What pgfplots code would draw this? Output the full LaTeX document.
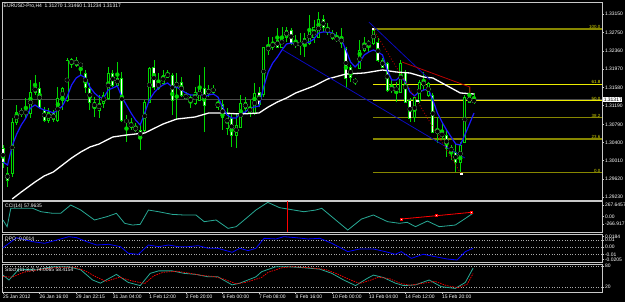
\documentclass[border=0pt]{standalone}
\usepackage{pgfplots}
\usepackage{pgfplotstable}
\pgfplotsset{compat=1.18}
\usepackage{fontspec}
\setmainfont{Liberation Sans}
\definecolor{wick}{RGB}{0,215,0}
\definecolor{maBlue}{RGB}{25,25,255}
\definecolor{fibOlive}{RGB}{135,135,0}
\definecolor{fibYellow}{RGB}{235,235,0}
\definecolor{chanBlue}{RGB}{10,10,190}
\definecolor{trendRed}{RGB}{185,0,0}
\definecolor{cciTeal}{RGB}{40,170,150}
\definecolor{frame}{RGB}{200,200,200}
\definecolor{bidGrey}{RGB}{75,75,75}
\definecolor{lvl}{RGB}{170,170,170}
\newcommand\mtfont{\fontsize{5}{6}\selectfont}

\pgfplotstableread{
i o h l c
0 1.30282 1.30347 1.29855 1.29983
1 1.29748 1.29876 1.29448 1.29598
2 1.29748 1.30925 1.29662 1.30839
3 1.30839 1.31203 1.30775 1.31053
4 1.31053 1.31138 1.30946 1.31032
5 1.31032 1.31353 1.30925 1.31053
6 1.31032 1.31738 1.30925 1.31481
7 1.31481 1.31845 1.31417 1.31588
8 1.31567 1.31695 1.31138 1.31160
9 1.31096 1.31160 1.30839 1.30882
10 1.30882 1.31138 1.30818 1.31053
11 1.31032 1.31096 1.30839 1.30882
12 1.30882 1.31588 1.30839 1.31353
13 1.31310 1.31588 1.31096 1.31567
14 1.31310 1.32209 1.31267 1.32166
15 1.32059 1.32209 1.31995 1.32187
16 1.32166 1.32230 1.32016 1.32059
17 1.32080 1.32102 1.31845 1.32038
18 1.31888 1.31952 1.31460 1.31588
19 1.31567 1.31674 1.31096 1.31267
20 1.31267 1.31374 1.30946 1.31138
21 1.31096 1.31417 1.30925 1.31246
22 1.31246 1.31481 1.31138 1.31417
23 1.31353 1.32016 1.31310 1.31888
24 1.31888 1.31952 1.31588 1.31631
25 1.31631 1.32123 1.31588 1.31781
26 1.31781 1.31909 1.30839 1.30882
27 1.30839 1.30989 1.30411 1.30882
28 1.30818 1.30925 1.30668 1.30732
29 1.30732 1.30818 1.30625 1.30668
30 1.30668 1.30775 1.30240 1.30497
31 1.30668 1.31310 1.30625 1.31267
32 1.31267 1.32016 1.31246 1.31995
33 1.31995 1.32166 1.31524 1.31567
34 1.31567 1.31888 1.31524 1.31695
35 1.31674 1.31952 1.31631 1.31845
36 1.31802 1.31952 1.31781 1.31888
37 1.31845 1.31888 1.30989 1.31310
38 1.31588 1.31888 1.30882 1.31695
39 1.31695 1.31802 1.31374 1.31417
40 1.31417 1.31481 1.31310 1.31353
41 1.31267 1.31417 1.31138 1.31353
42 1.31246 1.31588 1.31203 1.31481
43 1.31310 1.31845 1.31310 1.31588
44 1.31567 1.32016 1.30625 1.31203
45 1.31524 1.31631 1.31374 1.31460
46 1.31567 1.31631 1.31417 1.31481
47 1.31160 1.31374 1.31096 1.31246
48 1.31203 1.31310 1.30668 1.30925
49 1.30711 1.31138 1.30561 1.31032
50 1.30925 1.31032 1.30304 1.30561
51 1.30561 1.31032 1.30282 1.30775
52 1.30732 1.31417 1.30711 1.31246
53 1.31138 1.31374 1.31032 1.31246
54 1.31160 1.31310 1.30946 1.31032
55 1.31032 1.31674 1.30989 1.31460
56 1.31481 1.31588 1.31160 1.31203
57 1.31417 1.32444 1.31374 1.32423
58 1.32380 1.32658 1.32273 1.32444
59 1.32444 1.32658 1.32380 1.32530
60 1.32594 1.32851 1.32444 1.32444
61 1.32444 1.32872 1.32423 1.32658
62 1.32658 1.32872 1.32551 1.32808
63 1.32808 1.32851 1.32487 1.32530
64 1.32487 1.32701 1.32423 1.32530
65 1.32487 1.32744 1.32273 1.32530
66 1.32487 1.32744 1.32230 1.32637
67 1.32530 1.33129 1.32487 1.32808
68 1.32637 1.33022 1.32530 1.32851
69 1.32658 1.33193 1.32637 1.33022
70 1.33022 1.33129 1.32765 1.32872
71 1.32872 1.32958 1.32701 1.32744
72 1.32744 1.32808 1.32594 1.32637
73 1.32594 1.32765 1.32551 1.32637
74 1.32637 1.32851 1.32423 1.32530
75 1.32423 1.32444 1.31567 1.31781
76 1.32016 1.32059 1.31695 1.31802
77 1.31695 1.31781 1.31631 1.31738
78 1.31995 1.32594 1.31995 1.32380
79 1.32380 1.32658 1.32337 1.32530
80 1.32487 1.32594 1.32337 1.32551
81 1.32530 1.32829 1.32487 1.32808
82 1.32551 1.32637 1.32123 1.32166
83 1.32166 1.32209 1.31995 1.32016
84 1.32102 1.32123 1.31481 1.31524
85 1.31524 1.31738 1.31460 1.31567
86 1.31567 1.31695 1.31267 1.31524
87 1.31481 1.32166 1.31481 1.32102
88 1.31909 1.31952 1.31267 1.31267
89 1.31310 1.31353 1.30839 1.30925
90 1.30925 1.31374 1.30839 1.31353
91 1.31310 1.31738 1.31246 1.31695
92 1.31695 1.31909 1.31524 1.31631
93 1.31417 1.31695 1.31374 1.31674
94 1.31417 1.31460 1.30604 1.30625
95 1.30604 1.30946 1.30389 1.30668
96 1.30604 1.30818 1.30454 1.30540
97 1.30561 1.30668 1.30090 1.30282
98 1.30304 1.30347 1.30026 1.30197
99 1.30197 1.30389 1.29769 1.29983
100 1.29983 1.30411 1.29726 1.30347
101 1.30411 1.31417 1.30389 1.31374
102 1.31374 1.31588 1.31246 1.31267
103 1.31270 1.31460 1.31234 1.31317
}\candles

\pgfplotsset{
  mt/.style={scale only axis, width=600bp, xmin=-0.22, xmax=130.99,
    clip=false, scaled y ticks=false, scaled x ticks=false,
    axis line style={draw=frame, line width=0.8bp},
    xtick=\empty, ytick pos=right, yticklabel pos=right,
    tick style={draw=frame, line width=0.5bp}, major tick length=2bp,
    tick align=outside,
    yticklabel style={font=\mtfont, text=white, inner sep=0.8bp, anchor=west},
  },
  candle/.style={only marks, mark=none, forget plot,
    error bars/.cd, y dir=both, y explicit, error mark=none},
}

\begin{document}
\begin{tikzpicture}
\fill[black] (0,0) rectangle (625bp,302bp);
\useasboundingbox (0,0) rectangle (625bp,302bp);

% ---------------- main price panel ----------------
\begin{axis}[mt, at={(2bp,102bp)}, anchor=south west, height=198bp,
  ymin=1.29170, ymax=1.33407,
  ytick={1.2923,1.2962,1.3001,1.3040,1.3079,1.3119,1.3158,1.3197,1.3236,1.3275,1.3315},
  yticklabels={1.29230,1.29620,1.30010,1.30400,1.30790,1.31190,1.31580,1.31970,1.32360,1.32750,1.33150}]

% bid line
\addplot[bidGrey, line width=1.6bp] coordinates {(-0.22,1.31317) (130.99,1.31317)};

% Fibonacci levels
\addplot[fibOlive, line width=1.2bp] coordinates {(80.9,1.32830) (130.99,1.32830)};
\addplot[fibYellow, line width=0.9bp] coordinates {(80.9,1.31653) (130.99,1.31653)};
\addplot[fibYellow, line width=0.9bp] coordinates {(80.9,1.31290) (130.99,1.31290)};
\addplot[fibOlive, line width=1.2bp] coordinates {(80.9,1.30927) (130.99,1.30927)};
\addplot[fibOlive, line width=1.2bp] coordinates {(80.9,1.30477) (130.99,1.30477)};
\addplot[fibOlive, line width=1.2bp] coordinates {(80.9,1.29750) (130.99,1.29750)};
\begin{scope}[font=\fontsize{4.5}{5}\selectfont, inner sep=0.6bp]
\node[anchor=south east, text=fibYellow!80!olive] at (axis cs:130.8,1.32830) {100.0};
\node[anchor=south east, text=fibYellow] at (axis cs:130.8,1.31653) {61.8};
\node[anchor=south east, text=fibYellow] at (axis cs:130.8,1.31290) {50.0};
\node[anchor=south east, text=fibYellow!80!olive] at (axis cs:130.8,1.30927) {38.2};
\node[anchor=south east, text=fibYellow!80!olive] at (axis cs:130.8,1.30477) {23.6};
\node[anchor=south east, text=fibYellow!80!olive] at (axis cs:130.8,1.29750) {0.0};
\end{scope}

% candles: wicks, body outlines, body fills
\addplot[color=wick, candle, error bar style={line width=0.8bp}]
  table[x=i, y expr={(\thisrow{h}+\thisrow{l})/2}, y error expr={(\thisrow{h}-\thisrow{l})/2}]{\candles};
\addplot[color=wick, candle, error bar style={line width=3.0bp}]
  table[x=i, y expr={(\thisrow{o}+\thisrow{c})/2}, y error expr={abs(\thisrow{o}-\thisrow{c})/2+0.000107}]{\candles};
\addplot[color=white, candle, error bar style={line width=1.2bp}]
  table[x=i, y expr={(\thisrow{o}+\thisrow{c})/2}, y error expr={(\thisrow{o}>\thisrow{c})*max(abs(\thisrow{o}-\thisrow{c})/2-0.000107,0)}]{\candles};
\addplot[color=black, candle, error bar style={line width=1.2bp}]
  table[x=i, y expr={(\thisrow{o}+\thisrow{c})/2}, y error expr={(\thisrow{c}>\thisrow{o})*max(abs(\thisrow{o}-\thisrow{c})/2-0.000107,0)}]{\candles};

% slow MA (white)
\addplot[white, line width=1.3bp, mark=none] coordinates {
(2,1.29191)(4,1.29341)(7,1.29555)(9,1.29684)(11,1.29769)(13,1.29919)(15,1.30069)
(17,1.30197)(19,1.30304)(21,1.30368)(24,1.30518)(27,1.30561)(31,1.30604)(35,1.30796)
(38,1.30903)(42,1.30946)(45,1.31032)(48,1.31032)(52,1.31010)(56,1.31032)(58,1.31160)
(60,1.31267)(62,1.31353)(64,1.31460)(68,1.31610)(71,1.31759)(75,1.31866)(79,1.31888)
(83,1.31952)(86,1.31909)(89,1.31888)(92,1.31802)(94,1.31781)(96,1.31674)(98,1.31567)
(100,1.31460)(103,1.31438)};

% fast MA (blue)
\addplot[maBlue, line width=1.2bp, mark=none] coordinates {
(0,1.29983)(1,1.29919)(2,1.30326)(3,1.30582)(4,1.30775)(5,1.30925)(6,1.31138)(7,1.31203)
(8,1.31138)(9,1.31096)(10,1.31075)(11,1.31032)(12,1.31096)(13,1.31182)(14,1.31374)
(15,1.31631)(16,1.31781)(17,1.31845)(18,1.31781)(19,1.31588)(20,1.31460)(21,1.31374)
(22,1.31353)(23,1.31524)(24,1.31567)(25,1.31610)(26,1.31374)(27,1.31203)(28,1.31032)
(29,1.30882)(30,1.30775)(31,1.31032)(32,1.31310)(33,1.31460)(34,1.31567)(35,1.31631)
(36,1.31674)(37,1.31588)(38,1.31588)(39,1.31524)(40,1.31460)(41,1.31417)(42,1.31417)
(43,1.31460)(44,1.31374)(45,1.31417)(46,1.31438)(47,1.31374)(48,1.31160)(49,1.30989)
(50,1.30925)(51,1.30925)(52,1.31032)(53,1.31053)(54,1.31138)(55,1.31160)(56,1.31182)
(57,1.31588)(58,1.31909)(59,1.32102)(60,1.32230)(61,1.32380)(62,1.32508)(63,1.32530)
(64,1.32508)(65,1.32508)(66,1.32530)(67,1.32551)(68,1.32615)(69,1.32744)(70,1.32765)
(71,1.32765)(72,1.32744)(73,1.32680)(74,1.32594)(75,1.32380)(76,1.32123)(77,1.32016)
(78,1.32123)(79,1.32273)(80,1.32337)(81,1.32380)(82,1.32337)(83,1.32273)(84,1.31952)
(85,1.31738)(86,1.31738)(87,1.31824)(88,1.31695)(89,1.31481)(90,1.31396)(91,1.31481)
(92,1.31524)(93,1.31545)(94,1.31310)(95,1.31032)(96,1.30839)(97,1.30668)(98,1.30518)
(99,1.30368)(100,1.30347)(101,1.30561)(102,1.30796)(103,1.31032)};

% channel lines
\addplot[chanBlue, line width=0.8bp] coordinates {(61.2,1.32380) (101.0,1.30069)};
\addplot[chanBlue, line width=0.8bp] coordinates {(80.0,1.32979) (93.4,1.31738)};

% red trend line
\addplot[trendRed, line width=0.8bp] coordinates {(87.25,1.32123) (102.1,1.31588) (102.1,1.31417)};

% fibo base line (dotted) with anchor squares
\addplot[trendRed, dotted, line width=0.9bp, mark=square*, mark size=0.9bp,
  mark options={solid, fill=white, draw=white}] coordinates {(80.9,1.32829) (90.55,1.31290) (100.2,1.29726)};

\node[anchor=north west, font=\mtfont, text=white, inner sep=0pt] at ([xshift=1.5bp,yshift=-2bp]rel axis cs:0,1) {EURUSD-Pro,H4\ \ 1.31270 1.31460 1.31234 1.31317};
\node[anchor=west, fill=white, text=black, font=\mtfont, inner sep=0.6bp] at ([xshift=1bp]axis cs:130.99,1.31317) {1.31317};
\end{axis}

% ---------------- CCI ----------------
\begin{axis}[mt, at={(2bp,70bp)}, anchor=south west, height=31bp,
  ymin=-266.917, ymax=267.6457,
  ytick={-129,0,198}, yticklabels={-266.917,0.00,267.6457}]
\addplot[cciTeal, line width=0.8bp, mark=none] coordinates {
(0,-60)(0.9,-176)(1.7,141)(6.5,141)(8.3,83)(10.9,55)(12.6,55)(14.8,198)(17,112)
(20,-60)(22.7,-3)(24.8,55)(26.6,-117)(28.3,-147)(30,-135)(31.8,112)(34,83)(37,37)
(39.6,26)(42.2,26)(44,-89)(46.6,-60)(49.2,-204)(51,-175)(53.6,-3)(55.3,112)(57.9,244)
(60.5,152)(62.3,129)(65.8,83)(68.4,112)(69.7,141)(71.9,-3)(75.4,-233)(78.4,-43)(81,26)
(84.1,-89)(86.7,-117)(88.4,-100)(90.2,-175)(92.8,-78)(95.4,-175)(98.9,-147)(100.6,-60)
(102.8,57.96)};
\addplot[red, line width=0.8bp] coordinates {(62.1,-266.917) (62.1,267.6457)};
\addplot[red, line width=0.8bp, mark=square*, mark size=1bp,
  mark options={fill=white, draw=red}] coordinates {(87.1,-43) (94.8,14) (102.4,72)};
\node[anchor=north west, font=\mtfont, text=white, inner sep=0pt] at ([xshift=3bp,yshift=-3bp]rel axis cs:0,1) {CCI(14) 57.9635};
\end{axis}

% ---------------- DPO ----------------
\begin{axis}[mt, at={(2bp,40bp)}, anchor=south west, height=28bp,
  ymin=-0.0205, ymax=0.0184,
  ytick={-0.0168,-0.01,0,0.01,0.0152}, yticklabels={-0.0205,-0.01,0.00,0.01,0.0184}]
\addplot[lvl, dotted, line width=0.6bp] coordinates {(-0.22,0.01) (130.99,0.01)};
\addplot[lvl, dotted, line width=0.6bp] coordinates {(-0.22,0) (130.99,0)};
\addplot[lvl, dotted, line width=0.6bp] coordinates {(-0.22,-0.01) (130.99,-0.01)};
\addplot[blue, line width=0.8bp, mark=none] coordinates {
(0,-0.0006)(3.0,0.0133)(6.5,0.0077)(9.1,0.0055)(11.8,0.0101)(14.4,0.0147)(16.1,0.0133)
(18.3,0.0077)(20.5,0.0031)(23.1,0.0041)(25.7,0.0008)(27.4,-0.0084)(29.6,-0.0098)
(31.8,0.0031)(34,0.0008)(36.2,0.0031)(38.3,0.0008)(40.5,0.0008)(42.7,0.0022)(44.9,-0.0015)
(47,-0.0015)(50.1,-0.0070)(51.8,-0.0015)(53.6,-0.0047)(55.3,-0.0015)(57.1,0.0124)
(59.7,0.0115)(61.4,0.0147)(64,0.0133)(66.7,0.0115)(69.3,0.0124)(71.9,0.0055)(75.4,-0.0061)
(78,-0.0024)(81,-0.0024)(83.6,-0.0061)(85.8,-0.0098)(87.1,-0.0061)(89.3,-0.0154)
(91.9,-0.0098)(94.5,-0.0131)(97.1,-0.0163)(99.3,-0.0177)(101.1,-0.0061)(102.8,-0.0014)};
\node[anchor=north west, font=\mtfont, text=white, inner sep=0pt] at ([xshift=3bp,yshift=-3bp]rel axis cs:0,1) {DPO -0.0014};
\end{axis}

% ---------------- Stochastic ----------------
\begin{axis}[mt, at={(2bp,10bp)}, anchor=south west, height=28bp,
  ymin=5.7, ymax=85.7,
  ytick={20,80}, yticklabels={20,80},
  xtick={0,8,16,24,32,40,48,56,64,72,80,88,96}, xtick pos=left,
  xticklabels={25 Jan 2012,26 Jan 16:00,29 Jan 22:15,31 Jan 04:00,1 Feb 12:00,2 Feb 20:00,6 Feb 00:00,7 Feb 08:00,8 Feb 16:00,10 Feb 00:00,13 Feb 04:00,14 Feb 12:00,15 Feb 20:00},
  xticklabel style={font=\mtfont, text=white, anchor=north west, inner sep=0.8bp, xshift=-1bp}]
\addplot[lvl, dotted, line width=0.6bp] coordinates {(-0.22,80) (130.99,80)};
\addplot[lvl, dotted, line width=0.6bp] coordinates {(-0.22,20) (130.99,20)};
\addplot[cciTeal, line width=0.8bp, mark=none] coordinates {
(0,54)(1.3,40)(3.5,71)(7.4,69)(10.9,78)(14.4,78)(17,69)(19.6,40)(21.3,31)(24.8,56)
(27.4,33)(30,24)(32.2,59)(34,66)(37,66)(39.6,59)(42.2,56)(44.9,49)(47,49)(50.1,26)
(51.8,31)(55.3,49)(56.6,64)(59.7,78)(62.3,78)(65.8,75)(69.3,71)(71.9,59)(74.5,40)
(77.1,24)(79.7,45)(81,54)(83.2,47)(85.8,31)(87.6,24)(90.2,26)(93.2,40)(95.8,21)
(98.9,16)(101.1,33)(102.8,74)};
\addplot[red, dash pattern=on 1.5bp off 1bp, line width=0.7bp, mark=none] coordinates {
(0,50)(2,48)(4.5,62)(8,70)(12,76)(15.5,77)(18,66)(20.5,48)(22.5,36)(25.5,48)(28,38)
(31,30)(33,52)(35,62)(38,65)(41,59)(43.5,53)(46,50)(48,44)(51,29)(53,33)(56.5,47)
(58,62)(61,75)(63.5,78)(67,75)(70.5,70)(73,58)(75.5,43)(78,30)(80.5,40)(82,48)
(84.5,44)(87,30)(89,25)(91.5,30)(94.5,36)(97,24)(99.5,18)(101.5,28)(102.8,58.4)};
\node[anchor=north west, font=\mtfont, text=white, inner sep=0pt] at ([xshift=3bp,yshift=-4bp]rel axis cs:0,1) {Stoch(11,3,3) 74.0065 58.4154};
\end{axis}
\end{tikzpicture}
\end{document}
